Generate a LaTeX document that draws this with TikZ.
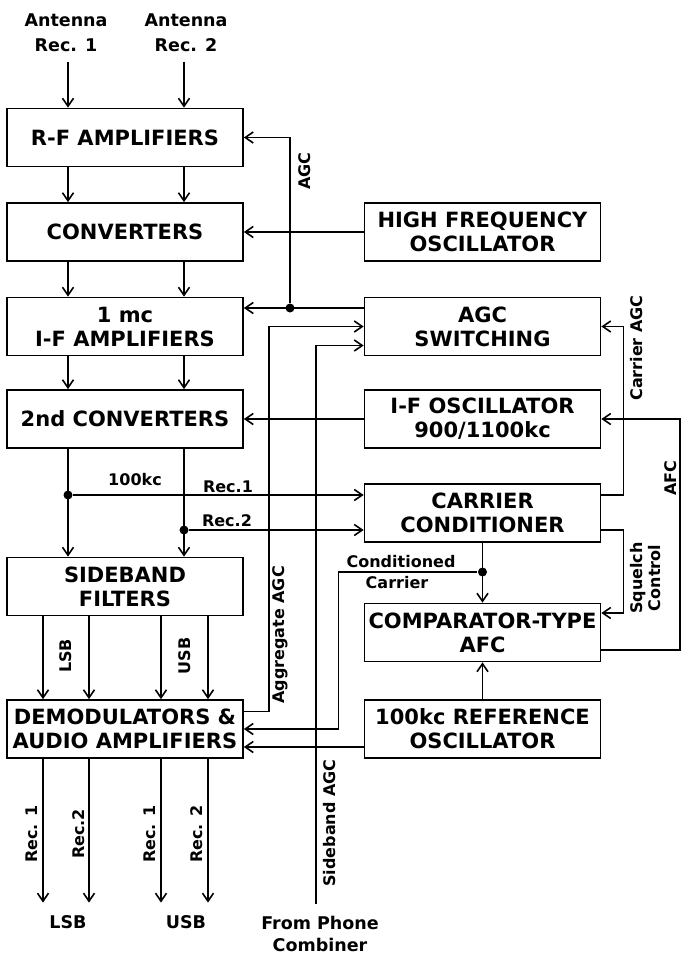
\documentclass[tikz,border=0pt]{standalone}
\usepackage{fontspec}
\setmainfont{DejaVu Sans}
\usetikzlibrary{arrows.meta}

\begin{document}
\begin{tikzpicture}[x=1pt,y=-1pt,line width=1.6pt,>={Straight Barb[length=8pt,width=11pt]},
blk/.style={draw,line width=1.7pt,minimum width=236pt,minimum height=58pt,align=center,font=\fontsize{21}{24}\selectfont\bfseries},
lbl/.style={font=\fontsize{16}{18}\selectfont\bfseries,inner sep=1pt,align=center},
big/.style args={#1}{font=\fontsize{17.5}{#1}\selectfont\bfseries,align=center,inner sep=1pt},
dot/.style={circle,fill,inner sep=0pt,minimum size=9pt}]
\useasboundingbox (0,0) rectangle (681,955);
\node (rf) [blk] at (125,137.5) {R-F AMPLIFIERS};
\node (conv) [blk] at (125,232) {CONVERTERS};
\node (ifamp) [blk] at (125,326.5) {1 mc\\I-F AMPLIFIERS};
\node (conv2) [blk] at (125,419) {2nd CONVERTERS};
\node (sbf) [blk] at (125,586.5) {SIDEBAND\\FILTERS};
\node (demod) [blk] at (125,729) {DEMODULATORS \&\\AUDIO AMPLIFIERS};
\node (hfo) [blk] at (482.5,232) {HIGH FREQUENCY\\OSCILLATOR};
\node (agcsw) [blk] at (482.5,326.5) {AGC\\SWITCHING};
\node (ifo) [blk] at (482.5,419) {I-F OSCILLATOR\\900/1100kc};
\node (cc) [blk] at (482.5,513) {CARRIER\\CONDITIONER};
\node (afc) [blk] at (482.5,632.5) {COMPARATOR-TYPE\\AFC};
\node (refosc) [blk] at (482.5,729) {100kc REFERENCE\\OSCILLATOR};
\node (ant1) [big=25pt] at (66,33) {Antenna\\Rec. 1};
\node (ant2) [big=25pt] at (186,33) {Antenna\\Rec. 2};
\node (lsb) [big=25pt] at (68,922) {LSB};
\node (usb) [big=25pt] at (186,922) {USB};
\node (phone) [big=22pt] at (320,934) {From Phone\\Combiner};
\node (d1) [dot] at (68,495) {};
\node (d2) [dot] at (184,530) {};
\node (j1) [dot] at (290,308) {};
\node (j2) [dot] at (482.5,572) {};
\coordinate (c1) at (68,0);
\coordinate (c2) at (184,0);
\coordinate (o1) at (43,0);
\coordinate (o2) at (89,0);
\coordinate (o3) at (161,0);
\coordinate (o4) at (208,0);
\coordinate (xs) at (316,0);
\draw[->,shorten <=8pt] (ant1.south -| c1) -- (rf.north -| c1);
\draw[->,shorten <=8pt] (ant2.south -| c2) -- (rf.north -| c2);
\foreach \from/\to in {rf/conv,conv/ifamp,ifamp/conv2,conv2/sbf}
\foreach \c in {c1,c2}
\draw[->] (\from.south -| \c) -- (\to.north -| \c);
\foreach \c in {o1,o2,o3,o4}
\draw[->] (sbf.south -| \c) -- (demod.north -| \c);
\foreach \c/\to in {o1/lsb,o2/lsb,o3/usb,o4/usb}
\draw[->,shorten >=11pt] (demod.south -| \c) -- (\to.north -| \c);
\draw[->] (d1) -- (cc.west |- d1);
\draw[->] (d2) -- (cc.west |- d2);
\draw[->] (hfo) -- (conv);
\draw[->] (ifo) -- (conv2);
\draw[->] ([yshift=18.5pt]agcsw.west) -- ([yshift=18.5pt]ifamp.east);
\draw[->] (j1) |- (rf.east);
\draw[->] ([yshift=17.5pt]demod.east) -- ++(25,0) |- (agcsw.west);
\draw[->,shorten <=10pt] (phone.north -| xs) |- ([yshift=-19pt]agcsw.west);
\draw[->] (cc) -- (afc);
\draw[->] (j2) -- ++(-144,0) |- (demod.east);
\draw[->] (refosc) -- (afc);
\draw[->] ([yshift=-18pt]refosc.west) -- ([yshift=-18pt]demod.east);
\draw[->] ([yshift=18pt]cc.east) -- ++(22,0) |- (agcsw.east);
\draw[->] ([yshift=-17pt]cc.east) -- ++(22,0) |- ([yshift=19.5pt]afc.east);
\draw[->] ([yshift=-17.5pt]afc.east) -- ++(78.5,0) |- (ifo.east);
\node (l100) [lbl] at (135,480) {100kc};
\node (lr1) [lbl] at (228,487) {Rec.1};
\node (lr2) [lbl] at (227,521) {Rec.2};
\node (lagc) [lbl,rotate=90] at (305,171) {AGC};
\node (laggr) [lbl,rotate=90] at (280,635) {Aggregate AGC};
\node (lsbagc) [lbl,rotate=90] at (330,823) {Sideband AGC};
\node (lcond) [lbl] at (401,562) {Conditioned};
\node (lcarr) [lbl] at (397,583) {Carrier};
\node (lcagc) [lbl,rotate=90] at (637,348) {Carrier AGC};
\node (lafc) [lbl,rotate=90] at (671,478) {AFC};
\node (lsq) [lbl,rotate=90] at (646,578) {Squelch\\Control};
\node (llsb) [lbl,rotate=90] at (66,656) {LSB};
\node (lusb) [lbl,rotate=90] at (185,656) {USB};
\node (lo1) [lbl,rotate=90] at (32,834) {Rec. 1};
\node (lo2) [lbl,rotate=90] at (79,834) {Rec.2};
\node (lo3) [lbl,rotate=90] at (150,834) {Rec. 1};
\node (lo4) [lbl,rotate=90] at (197,834) {Rec. 2};
\end{tikzpicture}
\end{document}
